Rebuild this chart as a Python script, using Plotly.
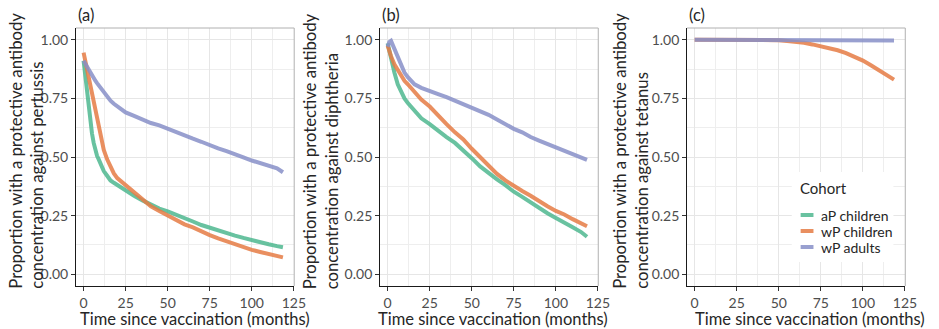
"""
Antibody waning by cohort: pertussis, diphtheria, tetanus (three panels).
"""
import plotly.graph_objs as go

W, H = 939, 329

# time since vaccination (months)
t_a = [0, 1, 2, 3, 4, 5, 6, 7, 8, 9, 10, 12, 14, 16, 18, 20, 25, 30, 35, 40, 45, 50, 55, 60,
       65, 70, 75, 80, 85, 90, 95, 100, 105, 110, 115, 118.5]
aP_pertussis = [0.91, 0.84, 0.77, 0.71, 0.65, 0.60, 0.56, 0.53, 0.505, 0.49, 0.47, 0.44, 0.42, 0.40,
                0.39, 0.38, 0.355, 0.335, 0.315, 0.298, 0.28, 0.268, 0.255, 0.24, 0.225, 0.21, 0.198,
                0.187, 0.177, 0.165, 0.155, 0.145, 0.135, 0.128, 0.12, 0.115]
wPc_pertussis = [0.945, 0.91, 0.88, 0.84, 0.80, 0.76, 0.72, 0.685, 0.65, 0.615, 0.585, 0.53, 0.49,
                 0.455, 0.43, 0.41, 0.38, 0.345, 0.315, 0.29, 0.27, 0.25, 0.23, 0.213, 0.20, 0.182,
                 0.167, 0.153, 0.14, 0.126, 0.114, 0.104, 0.095, 0.087, 0.078, 0.072]
wPa_pertussis = [0.91, 0.897, 0.885, 0.872, 0.86, 0.847, 0.835, 0.825, 0.815, 0.805, 0.795, 0.775,
                 0.757, 0.74, 0.727, 0.715, 0.69, 0.675, 0.66, 0.645, 0.635, 0.62, 0.605, 0.59,
                 0.578, 0.565, 0.55, 0.537, 0.525, 0.51, 0.498, 0.485, 0.475, 0.465, 0.452, 0.435]

t_b = [0, 1, 2, 4, 6, 8, 10, 12, 14, 16, 20, 25, 30, 35, 40, 45, 50, 55, 60, 65, 70, 75, 80, 85,
       90, 95, 100, 105, 110, 115, 118.5]
aP_diphtheria = [0.985, 0.95, 0.92, 0.86, 0.81, 0.775, 0.75, 0.73, 0.713, 0.695, 0.665, 0.64, 0.61,
                 0.585, 0.56, 0.53, 0.495, 0.46, 0.43, 0.405, 0.38, 0.352, 0.33, 0.305, 0.283, 0.26,
                 0.24, 0.222, 0.2, 0.18, 0.16]
wPc_diphtheria = [0.975, 0.95, 0.93, 0.895, 0.87, 0.845, 0.825, 0.81, 0.795, 0.78, 0.745, 0.715,
                  0.675, 0.64, 0.605, 0.575, 0.535, 0.5, 0.465, 0.428, 0.4, 0.375, 0.355, 0.335,
                  0.31, 0.29, 0.27, 0.255, 0.235, 0.218, 0.205]
wPa_diphtheria = [0.97, 0.99, 0.995, 0.96, 0.92, 0.885, 0.86, 0.84, 0.825, 0.81, 0.795, 0.78, 0.768,
                  0.755, 0.74, 0.725, 0.71, 0.695, 0.68, 0.66, 0.64, 0.62, 0.605, 0.585, 0.57,
                  0.555, 0.54, 0.525, 0.51, 0.495, 0.488]

# tetanus: no aP children curve is visible in the figure
t_c = [0, 10, 20, 30, 40, 50, 55, 60, 65, 70, 75, 80, 85, 90, 95, 100, 105, 110, 115, 118.5]
wPc_tetanus = [1.0, 1.0, 1.0, 1.0, 0.999, 0.998, 0.995, 0.992, 0.987, 0.98, 0.973, 0.964, 0.955,
               0.943, 0.928, 0.911, 0.89, 0.868, 0.845, 0.83]
wPa_tetanus = [1.0, 1.0, 1.0, 1.0, 1.0, 1.0, 1.0, 1.0, 1.0, 1.0, 1.0, 0.999, 0.999, 0.999, 0.998,
               0.998, 0.998, 0.997, 0.997, 0.997]

cohorts = ["aP children", "wP children", "wP adults"]
colours = ["#4fb890", "#e67c45", "#8890c8"]
panel_labels = ["(a)", "(b)", "(c)"]
y_titles = ["Proportion with a protective antibody<br>concentration against pertussis",
            "Proportion with a protective antibody<br>concentration against diphtheria",
            "Proportion with a protective antibody<br>concentration against tetanus"]

panels = [
    (t_a, [aP_pertussis, wPc_pertussis, wPa_pertussis]),
    (t_b, [aP_diphtheria, wPc_diphtheria, wPa_diphtheria]),
    (t_c, [None, wPc_tetanus, wPa_tetanus]),
]

FONT = "Lato"
TXT = "#262626"
# pixel boxes of the three panels
x_px = [(77, 298), (385, 606), (696, 917)]
y_px = (28, 286)

fig = go.Figure()

for i, (t, series) in enumerate(panels):
    ax = "" if i == 0 else str(i + 1)
    for name, col, vals in zip(cohorts, colours, series):
        if vals is None:
            continue
        fig.add_trace(go.Scatter(x=t, y=vals, mode="lines", name=name,
                                 line=dict(color=col, width=4), opacity=0.85,
                                 xaxis="x" + ax, yaxis="y" + ax, showlegend=False,
                                 hoverinfo="skip"))

axis_common = dict(showline=True, linecolor="#1a1a1a", linewidth=1, ticks="outside", ticklen=4,
                   tickcolor="#333333", gridcolor="#e6e6e6", gridwidth=1, zeroline=False,
                   tickfont=dict(family=FONT, size=14, color="#4d4d4d"))

layout = dict(width=W, height=H, margin=dict(l=0, r=0, t=0, b=0),
              plot_bgcolor="white", paper_bgcolor="white", showlegend=False,
              font=dict(family=FONT, color=TXT))

annotations = []
shapes = []
for i in range(3):
    ax = "" if i == 0 else str(i + 1)
    x0, x1 = x_px[i]
    layout["xaxis" + ax] = dict(axis_common, domain=[x0 / W, x1 / W], range=[-4.5, 125.2],
                                tick0=0, dtick=25, anchor="y" + ax,
                                minor=dict(dtick=12.5, showgrid=True, gridcolor="#eeeeee"))
    layout["yaxis" + ax] = dict(axis_common, domain=[1 - y_px[1] / H, 1 - y_px[0] / H],
                                range=[-0.05, 1.05], tick0=0, dtick=0.25, tickformat=".2f",
                                anchor="x" + ax,
                                minor=dict(dtick=0.125, showgrid=True, gridcolor="#eeeeee"))
    # grey top/right border
    shapes.append(dict(type="line", xref="x" + ax + " domain", yref="y" + ax + " domain",
                       x0=0, x1=1, y0=1, y1=1, line=dict(color="#b0b0b0", width=1)))
    shapes.append(dict(type="line", xref="x" + ax + " domain", yref="y" + ax + " domain",
                       x0=1, x1=1, y0=0, y1=1, line=dict(color="#b0b0b0", width=1)))
    annotations.append(dict(text=panel_labels[i], xref="paper", yref="paper", x=x0 / W,
                            y=1 - 15 / H, xanchor="left", yanchor="middle", showarrow=False,
                            font=dict(family=FONT, size=16.5, color=TXT)))

y_title_x = [27, 325.5, 639]
x_title_x = [198, 499, 820]
for i in range(3):
    annotations.append(dict(text=y_titles[i], xref="paper", yref="paper", x=y_title_x[i] / W,
                            y=1 - 151 / H, textangle=-90, xanchor="center", yanchor="middle",
                            align="left", showarrow=False,
                            font=dict(family=FONT, size=16.7, color=TXT)))
    annotations.append(dict(text="Time since vaccination (months)", xref="paper", yref="paper",
                            x=x_title_x[i] / W, y=1 - 319 / H, xanchor="center",
                            yanchor="middle", showarrow=False,
                            font=dict(family=FONT, size=16.5, color=TXT)))

# legend drawn by hand inside panel (c)
shapes.append(dict(type="rect", xref="paper", yref="paper", x0=802 / W, x1=905 / W,
                   y0=1 - 262 / H, y1=1 - 172 / H, fillcolor="white",
                   line=dict(width=0), layer="above"))
annotations.append(dict(text="Cohort", xref="paper", yref="paper", x=808 / W, y=1 - 188 / H,
                        xanchor="left", yanchor="middle", showarrow=False,
                        font=dict(family=FONT, size=15, color=TXT)))
for k, (name, col) in enumerate(zip(cohorts, colours)):
    yy = 1 - (215 + 16 * k) / H
    shapes.append(dict(type="line", xref="paper", yref="paper", x0=811 / W, x1=824 / W,
                       y0=yy, y1=yy, line=dict(color=col, width=4), opacity=0.85,
                       layer="above"))
    annotations.append(dict(text=name, xref="paper", yref="paper", x=830 / W, y=yy,
                            xanchor="left", yanchor="middle", showarrow=False,
                            font=dict(family=FONT, size=14, color=TXT)))

layout["annotations"] = annotations
layout["shapes"] = shapes
fig.update_layout(**layout)

# drop the default 8px page margin so the figure sits at the window's corner
fig.write_html("out.html", config={"displayModeBar": False},
               post_script="document.body.style.margin='0';")
